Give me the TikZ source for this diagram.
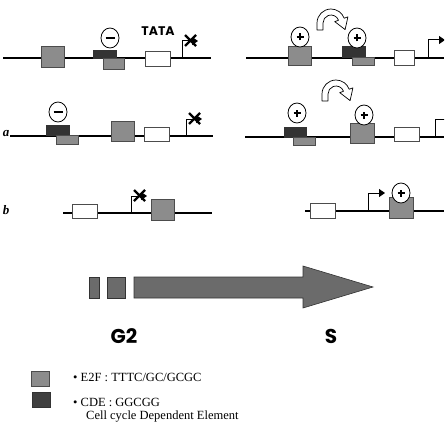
\documentclass[tikz,border=0pt]{standalone}
\usepackage{fontspec}
\setmainfont{Liberation Serif}
\newfontfamily\phasefont{Poppins}
\usetikzlibrary{arrows.meta}

\begin{document}
\begin{tikzpicture}[x=1pt, y=1pt,
	dna/.style={line width=1.3pt},
	efbox/.style={draw=black!70, fill=black!45, line width=0.6pt},
	cdebox/.style={draw=black!80, fill=black!80, line width=0.6pt},
	tatabox/.style={draw=black!70, fill=white, line width=0.8pt},
	hoparrow/.style={draw, fill=white, line width=0.7pt, line join=round},
	pics/act/.style={code={
		\draw[fill=white, line width=0.8pt] (0,0) ellipse [x radius=9, y radius=10];
		\draw[line width=1.6pt] (-3.5,0) -- (3.5,0) (0,-3.5) -- (0,3.5);}},
	pics/rep/.style={code={
		\draw[fill=white, line width=0.8pt] (0,0) ellipse [x radius=9, y radius=10];
		\draw[line width=1.6pt] (-4.5,0) -- (4.5,0);}},
	pics/on/.style={code={
		\draw[line width=1pt, -{Triangle[length=6pt, width=8pt]}] (0,0) -- (0,18) -- (17,18);}},
	pics/off/.style={code={
		\draw[line width=1pt, -{Triangle[length=6pt, width=8pt]}] (0,0) -- (0,17) -- (16,17);
		\draw[line width=2.2pt] (3,12) -- (14,23) (3,23) -- (14,12);}},
	pics/turn/.style={code={
		\draw[hoparrow] (-14,-7) -- (-14,0) arc[start angle=180, end angle=20, radius=14]
			-- (20:18) -- (14.1,-6.6) -- (20:4) -- (20:8)
			arc[start angle=20, end angle=180, radius=8] -- (-8,-7) -- cycle;}}]
	\useasboundingbox (0,0) rectangle (444,-444);
	\clip (0,0) rectangle (444,-444);
	% first row
	\draw[dna] (3,-58) -- (211,-58);
	\filldraw[efbox] (41,-46) rectangle (64,-67);
	\filldraw[cdebox] (93,-50) rectangle (116,-58);
	\filldraw[efbox] (103,-58) rectangle (124,-69);
	\pic at (110,-38) {rep};
	\filldraw[tatabox] (145,-51) rectangle (170,-66);
	\node (tata) at (158,-31) {\phasefont\bfseries\fontsize{12.5}{12.5}\selectfont TATA};
	\pic at (182,-58) {off};
	\draw[dna] (246,-58) -- (444,-58);
	\filldraw[efbox] (288,-46) rectangle (311,-65);
	\pic at (300,-37) {act};
	\filldraw[cdebox] (342,-46) rectangle (365,-57);
	\filldraw[efbox] (352,-57) rectangle (374,-65);
	\pic at (357,-38) {act};
	\pic at (331,-23) {turn};
	\filldraw[tatabox] (394,-50) rectangle (414,-65);
	\pic at (428,-58) {on};
	% row a
	\node (rowa) at (6,-134) {\fontsize{13}{13}\selectfont\bfseries\itshape a};
	\draw[dna] (10,-136) -- (213,-136);
	\filldraw[cdebox] (46,-125) rectangle (69,-135);
	\filldraw[efbox] (56,-135) rectangle (78,-144);
	\pic at (58,-112) {rep};
	\filldraw[efbox] (111,-121) rectangle (134,-141);
	\filldraw[tatabox] (144,-127) rectangle (169,-141);
	\pic at (186,-136) {off};
	\draw[dna] (245,-137) -- (444,-137);
	\filldraw[cdebox] (284,-127) rectangle (306,-137);
	\filldraw[efbox] (293,-137) rectangle (315,-145);
	\pic at (297,-113) {act};
	\filldraw[efbox] (350,-123) rectangle (374,-143);
	\pic at (364,-115) {act};
	\pic at (336,-94) {turn};
	\filldraw[tatabox] (394,-127) rectangle (419,-141);
	\pic at (435,-137) {on};
	% row b
	\node (rowb) at (6,-210) {\fontsize{13}{13}\selectfont\bfseries\itshape b};
	\draw[dna] (63,-213) -- (212,-213);
	\filldraw[tatabox] (72,-204) rectangle (97,-218);
	\pic at (131,-213) {off};
	\filldraw[efbox] (151,-199) rectangle (174,-220);
	\draw[dna] (305,-211) -- (444,-211);
	\filldraw[tatabox] (310,-203) rectangle (335,-218);
	\pic at (368,-211) {on};
	\filldraw[efbox] (389,-197) rectangle (413,-218);
	\pic at (401,-193) {act};
	% cycle arrow
	\filldraw[draw=black!80, fill=black!58, line width=0.6pt] (89,-277) rectangle (99,-298);
	\filldraw[draw=black!80, fill=black!58, line width=0.6pt] (107,-277) rectangle (125,-298);
	\filldraw[draw=black!80, fill=black!58, line width=0.6pt] (134,-277) -- (303,-277) -- (303,-266)
		-- (373,-287) -- (303,-308) -- (303,-298) -- (134,-298) -- cycle;
	\node (g2) at (124,-336) {\phasefont\bfseries\fontsize{20}{20}\selectfont G2};
	\node (s) at (331,-336) {\phasefont\bfseries\fontsize{20}{20}\selectfont S};
	% legend
	\filldraw[efbox] (31,-371) rectangle (49,-386);
	\filldraw[cdebox, fill=black!75] (32,-392) rectangle (50,-407);
	\node[anchor=west, inner sep=0pt] (e2f) at (73,-377) {\fontsize{12.5}{12.5}\selectfont • E2F : TTTC/GC/GCGC};
	\node[anchor=west, inner sep=0pt] (cde) at (73,-402) {\fontsize{12.5}{12.5}\selectfont • CDE : GGCGG};
	\node[anchor=west, inner sep=0pt] (cdename) at (86,-417) {\fontsize{12.5}{12.5}\selectfont Cell cycle Dependent Element};
\end{tikzpicture}
\end{document}
